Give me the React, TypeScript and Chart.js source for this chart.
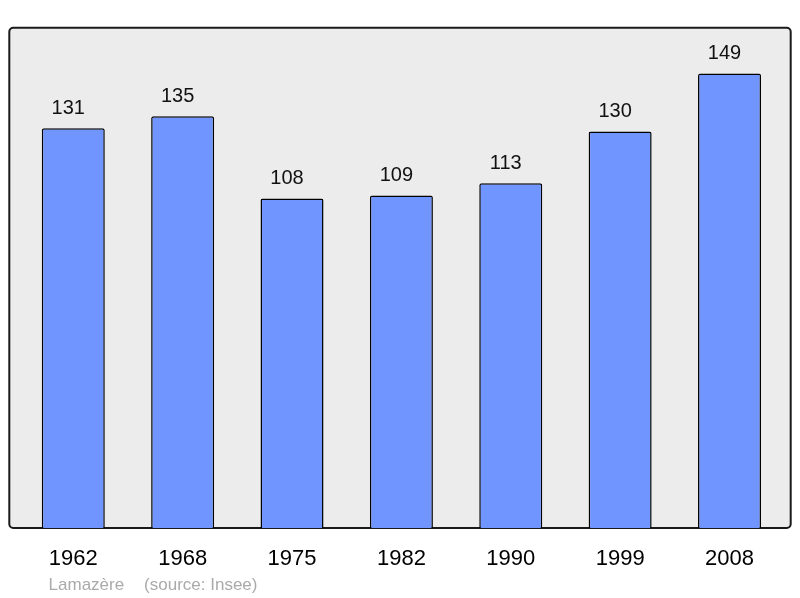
import React, { useEffect, useRef } from 'react';
import { Chart, registerables } from 'chart.js';

Chart.register(...registerables);

// population figures
const years = ['1962', '1968', '1975', '1982', '1990', '1999', '2008'];
const population = [131, 135, 108, 109, 113, 130, 149];
const yMax = 164;

const commune = 'Lamazère';
const sourceNote = '(source: Insee)';

const FONT = '"Liberation Sans", Arial, sans-serif';

// grey box with dark border behind the bars
const framePlugin = {
  id: 'frame',
  beforeDatasetsDraw(chart: any) {
    const { ctx, chartArea } = chart;
    const left = chartArea.left - 9.3;
    const right = chartArea.right + 6.5;
    const top = chartArea.top;
    const bottom = chartArea.bottom;
    ctx.save();
    ctx.beginPath();
    ctx.roundRect(left, top, right - left, bottom - top, 4);
    ctx.fillStyle = '#ececec';
    ctx.fill();
    ctx.lineWidth = 2;
    ctx.strokeStyle = '#1a1a1a';
    ctx.stroke();
    ctx.restore();
  },
};

// value above each bar + footer
const labelsPlugin = {
  id: 'valueLabels',
  afterDatasetsDraw(chart: any) {
    const { ctx, chartArea } = chart;
    const meta = chart.getDatasetMeta(0);
    ctx.save();
    ctx.font = `20px ${FONT}`;
    ctx.fillStyle = '#111';
    ctx.textAlign = 'center';
    ctx.textBaseline = 'alphabetic';
    meta.data.forEach((bar: any, i: number) => {
      // the source nudges the numbers a little to the left of the bar centre
      ctx.fillText(String(population[i]), bar.x - 5, bar.y - 14.5);
    });

    ctx.font = `17px ${FONT}`;
    ctx.fillStyle = '#aaaaaa';
    ctx.textAlign = 'left';
    const x0 = chartArea.left + 30;
    ctx.fillText(commune, x0, 590);
    ctx.fillText(sourceNote, x0 + 95.5, 590);
    ctx.restore();
  },
};

const App: React.FC = () => {
  const canvasRef = useRef<HTMLCanvasElement | null>(null);

  useEffect(() => {
    const ctx = canvasRef.current?.getContext('2d');
    if (!ctx) return;

    const chart = new Chart(ctx, {
      type: 'bar',
      data: {
        labels: years,
        datasets: [
          {
            data: population,
            backgroundColor: '#7095ff',
            borderColor: '#000',
            borderWidth: 1.5,
            borderRadius: 2,
            borderSkipped: 'bottom',
            barPercentage: 0.576,
            categoryPercentage: 1,
          },
        ],
      },
      options: {
        animation: false,
        responsive: true,
        maintainAspectRatio: false,
        layout: { padding: { left: 18.6, right: 15.8, top: 27.7, bottom: 0 } },
        plugins: {
          legend: { display: false },
          tooltip: { enabled: false },
        },
        scales: {
          x: {
            grid: { display: false, drawTicks: false },
            border: { display: false },
            ticks: {
              color: '#000',
              font: { family: FONT, size: 22 },
              padding: 17.5,
              maxRotation: 0,
            },
            afterFit: (scale: any) => {
              scale.height = 70;
            },
          },
          y: {
            display: false,
            min: 0,
            max: yMax,
          },
        },
      },
      plugins: [framePlugin, labelsPlugin],
    });

    return () => {
      chart.destroy();
    };
  }, []);

  return (
    <div style={{ position: 'fixed', left: 0, top: 0, width: '800px', height: '598px' }}>
      <canvas ref={canvasRef}></canvas>
    </div>
  );
};

export default App;
